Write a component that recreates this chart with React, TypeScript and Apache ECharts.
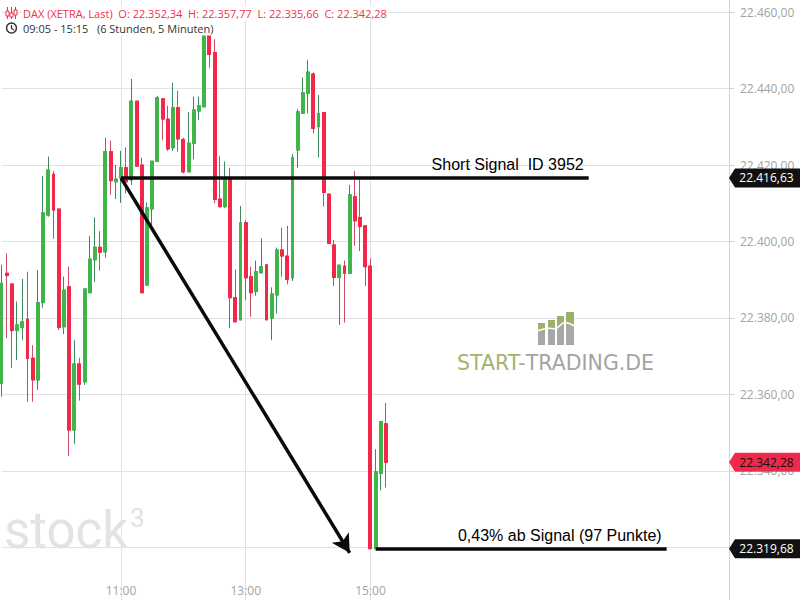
import React, { useEffect, useRef } from "react";
import * as echarts from "echarts";

// ---- data ----
const startMinutes = 9 * 60 + 5;
const slotCount = 141;
const categories: string[] = [];
for (let i = 0; i < slotCount; i++) {
  const m = startMinutes + i * 5;
  const hh = String(Math.floor(m / 60)).padStart(2, "0");
  const mm = String(m % 60).padStart(2, "0");
  categories.push(`${hh}:${mm}`);
}
const labeledTimes = ["11:00", "13:00", "15:00"];
const yTickValues = [22320, 22340, 22360, 22380, 22400, 22420, 22440, 22460];
const yRange = { min: 22306.27, max: 22463.14 };

const openVals = [
  22362.9, 22391.7, 22388.9, 22376.7, 22377.5, 22379.7, 22369.5, 22363.8, 22384.0, 22406.9,
  22417.6, 22408.5, 22377.7, 22388.2, 22350.7, 22368.0, 22363.3, 22386.6, 22395.2, 22398.5,
  22397.3, 22423.5, 22415.6, 22416.7, 22419.3, 22416.1, 22436.7, 22420.0, 22388.6, 22408.5,
  22420.9, 22437.3, 22432.0, 22424.5, 22435.0, 22426.7, 22418.2, 22425.7, 22434.1, 22435.2,
  22455.0, 22449.4, 22411.1, 22409.1, 22416.3, 22385.3, 22379.5, 22404.9, 22390.8, 22386.9,
  22391.8, 22393.9, 22379.9, 22386.0, 22397.8, 22396.2, 22390.5, 22423.9, 22433.5, 22438.7,
  22443.8, 22430.0, 22433.7, 22412.4, 22399.1, 22390.6, 22393.6, 22391.7, 22411.7, 22406.3,
  22404.1, 22393.6, 22319.68, 22339.4, 22352.34,
];
const closeVals = [
  22389.1, 22391.1, 22376.7, 22378.2, 22379.0, 22369.4, 22363.8, 22384.0, 22407.5, 22418.7,
  22408.2, 22377.5, 22387.3, 22350.7, 22368.0, 22362.7, 22387.6, 22395.4, 22398.5, 22397.2,
  22423.5, 22415.9, 22416.3, 22419.3, 22415.6, 22436.7, 22419.7, 22386.6, 22408.8, 22421.0,
  22437.6, 22432.0, 22424.2, 22435.0, 22426.8, 22418.2, 22425.7, 22434.4, 22435.5, 22455.0,
  22448.9, 22411.0, 22409.1, 22416.3, 22385.3, 22379.0, 22404.9, 22390.5, 22386.6, 22392.1,
  22393.4, 22379.5, 22386.3, 22397.8, 22396.2, 22390.1, 22421.9, 22433.9, 22438.9, 22444.3,
  22429.6, 22433.5, 22412.8, 22399.5, 22390.6, 22393.8, 22391.7, 22412.2, 22405.4, 22403.9,
  22393.4, 22319.68, 22339.8, 22352.9, 22342.28,
];
const lowVals = [
  22359.4, 22374.7, 22366.9, 22369.0, 22374.2, 22358.1, 22358.1, 22361.2, 22382.7, 22406.5,
  22400.7, 22376.9, 22375.8, 22343.9, 22347.1, 22358.4, 22362.5, 22386.6, 22389.5, 22392.4,
  22395.8, 22412.2, 22411.1, 22410.1, 22412.6, 22414.8, 22419.7, 22386.6, 22388.6, 22404.3,
  22420.9, 22426.5, 22423.7, 22423.7, 22423.5, 22417.8, 22418.2, 22421.5, 22431.8, 22435.2,
  22445.3, 22410.0, 22408.9, 22408.7, 22377.3, 22379.0, 22379.5, 22384.7, 22380.3, 22385.8,
  22391.8, 22379.5, 22374.2, 22381.2, 22390.8, 22388.8, 22389.7, 22419.3, 22433.5, 22433.5,
  22428.3, 22422.0, 22409.1, 22399.5, 22388.4, 22378.2, 22378.8, 22391.7, 22398.9, 22397.5,
  22388.4, 22319.68, 22319.68, 22334.9, 22335.66,
];
const highVals = [
  22393.9, 22396.9, 22388.9, 22384.3, 22390.2, 22392.1, 22372.9, 22392.5, 22417.1, 22422.2,
  22418.4, 22408.5, 22390.8, 22393.4, 22374.2, 22369.6, 22387.6, 22401.4, 22406.3, 22402.7,
  22427.1, 22426.4, 22420.0, 22423.7, 22424.6, 22442.5, 22436.7, 22421.9, 22410.2, 22421.0,
  22438.1, 22437.3, 22435.5, 22441.5, 22439.4, 22427.1, 22433.9, 22437.9, 22437.9, 22457.0,
  22457.5, 22452.9, 22422.4, 22420.9, 22419.3, 22392.7, 22409.3, 22405.6, 22393.4, 22395.0,
  22400.8, 22393.9, 22388.0, 22398.4, 22403.6, 22404.1, 22422.9, 22434.6, 22442.9, 22447.5,
  22444.2, 22438.3, 22433.7, 22412.4, 22400.4, 22393.8, 22395.0, 22414.8, 22418.4, 22416.3,
  22404.3, 22395.6, 22345.7, 22353.1, 22357.77,
];

const signalPrice = 22416.63;
const targetPrice = 22319.68;
const lastPrice = 22342.28;
const signalStartIdx = 23;
const signalEndIdx = 113;
const arrowEnd = { idx: 67, price: 22318.6 };
const targetStartIdx = 72;
const targetEndIdx = 128;
const signalText = "Short Signal  ID 3952";
const targetText = "0,43% ab Signal (97 Punkte)";
const ohlc = { o: 22352.34, h: 22357.77, l: 22335.66, c: 22342.28 };

function fmtDe(v: number): string {
  const s = v.toFixed(2);
  const [i, d] = s.split(".");
  return i.replace(/\B(?=(\d{3})+(?!\d))/g, ".") + "," + d;
}

const GREEN = "#40b54a";
const GREEN_WICK = "#3b8a5d";
const RED = "#f2274a";
const RED_WICK = "#cf4a64";
const GRID_COLOR = "#e0e0e6";
const AXIS_TEXT = "#a3a3a3";

export default function App() {
  const ref = useRef<HTMLDivElement>(null);
  useEffect(() => {
    if (!ref.current) return;
    const chart = echarts.init(ref.current, null, { renderer: "svg" });

    const fullData = openVals.map((o, i) => [o, closeVals[i], lowVals[i], highVals[i]]);
    const bodyData = openVals.map((o, i) => [
      o,
      closeVals[i],
      Math.min(o, closeVals[i]),
      Math.max(o, closeVals[i]),
    ]);

    const tagPath = "path://M0,9.5 L6,0 L71,0 L71,19 L6,19 Z";
    const tag = (value: number, bg: string, fg: string) => ({
      coord: [slotCount - 1, value],
      value,
      symbol: tagPath,
      symbolSize: [71, 19],
      symbolOffset: ["50%", 0],
      itemStyle: { color: bg },
      label: {
        show: true,
        position: "inside",
        formatter: fmtDe(value),
        color: fg,
        fontSize: 12,
        fontFamily: "Open Sans",
        offset: [2, 0],
      },
    });

    const isLabeled = (_i: number, v: string) => labeledTimes.includes(v);

    chart.setOption({
      animation: false,
      backgroundColor: "#ffffff",
      grid: [
        { left: 1.5, right: 71, top: 0, bottom: 0 },
        { left: 1.5, right: 71, top: 583, height: 1 },
      ],
      xAxis: [
        {
          type: "category",
          data: categories,
          boundaryGap: false,
          gridIndex: 0,
          axisLine: { show: false },
          axisTick: { show: false },
          axisLabel: { show: false },
          splitLine: { show: true, interval: isLabeled, lineStyle: { color: GRID_COLOR, width: 1 } },
        },
        {
          type: "category",
          data: categories,
          boundaryGap: false,
          gridIndex: 1,
          axisLine: { show: false },
          axisTick: { show: false },
          splitLine: { show: false },
          axisLabel: {
            show: true,
            interval: isLabeled,
            color: AXIS_TEXT,
            fontSize: 12,
            fontFamily: "Open Sans",
            margin: 0,
          },
        },
      ],
      yAxis: [
        {
          type: "value",
          position: "right",
          gridIndex: 0,
          min: yRange.min,
          max: yRange.max,
          axisLine: { show: true, lineStyle: { color: "#d3d3d8" } },
          axisTick: {
            show: true,
            length: 5,
            lineStyle: { color: "#cfcfd4" },
            customValues: yTickValues,
          },
          axisLabel: {
            color: AXIS_TEXT,
            fontSize: 12,
            fontFamily: "Open Sans",
            margin: 11,
            customValues: yTickValues,
            formatter: (v: number) => fmtDe(v),
          },
          splitLine: { show: true, lineStyle: { color: GRID_COLOR, width: 1 } },
        },
        { type: "value", gridIndex: 1, show: false },
      ],
      series: [
        {
          type: "candlestick",
          name: "wicks",
          xAxisIndex: 0,
          yAxisIndex: 0,
          data: fullData,
          barWidth: 3.4,
          clip: false,
          itemStyle: {
            color: GREEN_WICK,
            color0: RED_WICK,
            borderColor: GREEN_WICK,
            borderColor0: RED_WICK,
            borderWidth: 1,
          },
        },
        {
          type: "candlestick",
          name: "bodies",
          xAxisIndex: 0,
          yAxisIndex: 0,
          data: bodyData,
          barWidth: 3.4,
          clip: false,
          z: 3,
          itemStyle: {
            color: GREEN,
            color0: RED,
            borderColor: GREEN,
            borderColor0: RED,
            borderWidth: 1,
          },
          markLine: {
            silent: true,
            symbol: "none",
            z: 5,
            lineStyle: { color: "#0a0a0a", width: 3.5, type: "solid" },
            data: [
              [
                {
                  coord: [signalStartIdx, signalPrice],
                  label: {
                    show: true,
                    position: "insideEndTop",
                    formatter: signalText,
                    color: "#000",
                    fontSize: 16,
                    fontFamily: "Liberation Sans",
                    distance: 5,
                  },
                },
                { coord: [signalEndIdx, signalPrice] },
              ],
              [
                { coord: [signalStartIdx, signalPrice], symbol: "none", label: { show: false } },
                {
                  coord: [arrowEnd.idx, arrowEnd.price],
                  symbol: "arrow",
                  symbolSize: [15, 18],
                },
              ],
              [
                {
                  coord: [targetStartIdx, targetPrice],
                  label: {
                    show: true,
                    position: "insideEndTop",
                    formatter: targetText,
                    color: "#000",
                    fontSize: 16,
                    fontFamily: "Liberation Sans",
                    distance: 5,
                  },
                },
                { coord: [targetEndIdx, targetPrice] },
              ],
            ],
          },
          markPoint: {
            silent: true,
            z: 6,
            data: [
              tag(signalPrice, "#111111", "#ffffff"),
              tag(lastPrice, "#f0284a", "#111111"),
              tag(targetPrice, "#111111", "#ffffff"),
            ],
          },
        },
      ],
      graphic: [
        // watermark stock3
        {
          type: "text",
          z: 1,
          style: {
            text: "stock",
            x: 4,
            y: 530,
            verticalAlign: "middle",
            fill: "#e3e3e3",
            fontSize: 51,
            fontWeight: 400,
            fontFamily: "Roboto",
          },
        },
        {
          type: "text",
          z: 1,
          style: {
            text: "3",
            x: 130,
            y: 518,
            verticalAlign: "middle",
            fill: "#e3e3e3",
            fontSize: 26,
            fontWeight: 400,
            fontFamily: "Roboto",
          },
        },
        // START-TRADING logo
        { type: "rect", z: 1, shape: { x: 538, y: 323, width: 7, height: 22 }, style: { fill: "#a7a7a7" } },
        { type: "rect", z: 1, shape: { x: 548, y: 320, width: 7, height: 25 }, style: { fill: "#a7a7a7" } },
        { type: "rect", z: 1, shape: { x: 557, y: 316, width: 7, height: 29 }, style: { fill: "#a7a7a7" } },
        { type: "rect", z: 1, shape: { x: 566, y: 312, width: 8, height: 33 }, style: { fill: "#a7a7a7" } },
        { type: "rect", z: 1, shape: { x: 538, y: 323, width: 7, height: 8 }, style: { fill: "#9cb06a" } },
        { type: "rect", z: 1, shape: { x: 548, y: 320, width: 7, height: 8 }, style: { fill: "#9cb06a" } },
        { type: "rect", z: 1, shape: { x: 557, y: 316, width: 7, height: 8 }, style: { fill: "#9cb06a" } },
        { type: "rect", z: 1, shape: { x: 566, y: 312, width: 8, height: 13 }, style: { fill: "#9cb06a" } },
        {
          type: "polyline",
          z: 1,
          shape: { points: [[537, 331], [547, 328], [556, 329], [563, 323], [568, 323], [575, 326]] },
          style: { stroke: "#ffffff", lineWidth: 1.5, fill: "none" },
        },
        {
          type: "text",
          z: 1,
          style: {
            text: "{g|START-}{s|TRADING.DE}",
            x: 457,
            y: 363,
            verticalAlign: "middle",
            rich: {
              g: { fill: "#a2b46e", fontSize: 20.5, fontFamily: "DejaVu Sans" },
              s: { fill: "#a3a3a3", fontSize: 20.5, fontFamily: "DejaVu Sans" },
            },
          },
        },
        // header
        {
          type: "text",
          z: 50,
          style: {
            text: `DAX (XETRA, Last)  O: ${fmtDe(ohlc.o)}  H: ${fmtDe(ohlc.h)}  L: ${fmtDe(ohlc.l)}  C: ${fmtDe(ohlc.c)}`,
            x: 22,
            y: 13,
            verticalAlign: "middle",
            fill: "#f0304f",
            fontSize: 11,
            fontFamily: "Open Sans",
            backgroundColor: "#ffffff",
            padding: [2, 1],
          },
        },
        {
          type: "text",
          z: 50,
          style: {
            text: "09:05 - 15:15   (6 Stunden, 5 Minuten)",
            x: 22,
            y: 28,
            verticalAlign: "middle",
            fill: "#333333",
            fontSize: 11,
            fontFamily: "Open Sans",
            backgroundColor: "#ffffff",
            padding: [2, 1],
          },
        },
        // candle icon
        { type: "line", z: 51, shape: { x1: 7.5, y1: 7, x2: 7.5, y2: 19 }, style: { stroke: "#f0304f", lineWidth: 1 } },
        { type: "line", z: 51, shape: { x1: 11.5, y1: 7, x2: 11.5, y2: 19 }, style: { stroke: "#f0304f", lineWidth: 1 } },
        { type: "line", z: 51, shape: { x1: 15.5, y1: 7, x2: 15.5, y2: 19 }, style: { stroke: "#f0304f", lineWidth: 1 } },
        { type: "rect", z: 51, shape: { x: 6, y: 11, width: 3, height: 5 }, style: { fill: "#fff", stroke: "#f0304f", lineWidth: 1 } },
        { type: "rect", z: 51, shape: { x: 10, y: 13, width: 3, height: 4 }, style: { fill: "#fff", stroke: "#f0304f", lineWidth: 1 } },
        { type: "rect", z: 51, shape: { x: 14, y: 10, width: 3, height: 5 }, style: { fill: "#fff", stroke: "#f0304f", lineWidth: 1 } },
        // clock icon
        { type: "circle", z: 51, shape: { cx: 11.5, cy: 28, r: 5 }, style: { fill: "none", stroke: "#333", lineWidth: 1.5 } },
        {
          type: "polyline",
          z: 51,
          shape: { points: [[11.5, 25], [11.5, 28.5], [14, 30]] },
          style: { stroke: "#333", lineWidth: 1.3, fill: "none" },
        },
      ],
    });
    return () => chart.dispose();
  }, []);
  return (
    <div
      ref={ref}
      style={{ position: "fixed", left: 0, top: 0, width: 800, height: 600 }}
    />
  );
}
